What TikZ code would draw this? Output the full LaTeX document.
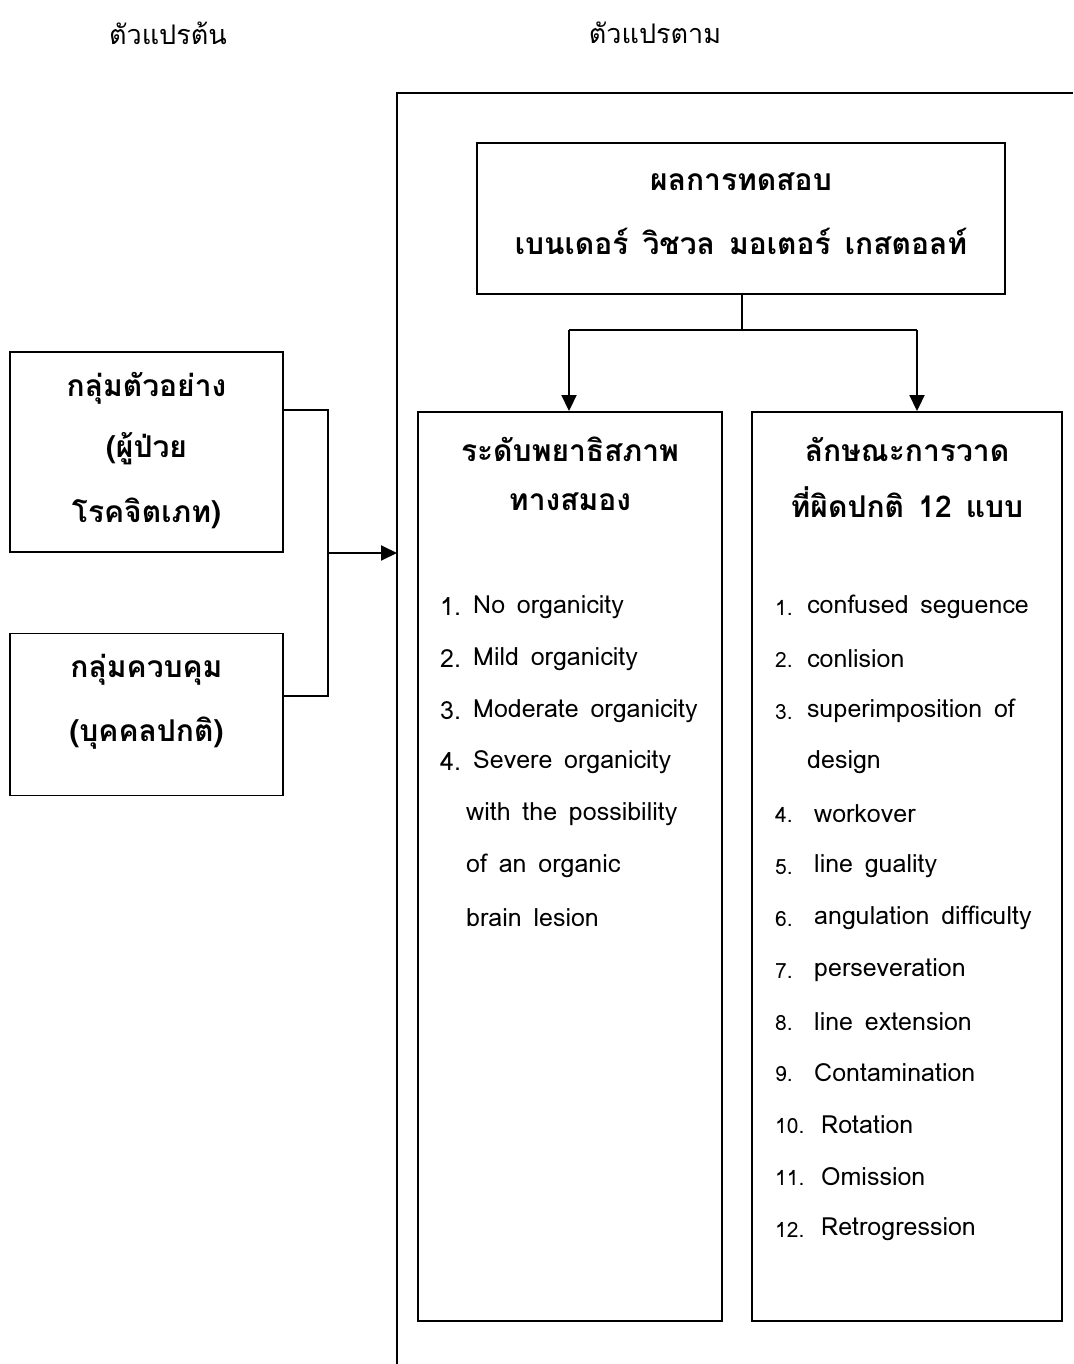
\documentclass[tikz,border=0pt]{standalone}
\usepackage{fontspec}
\setmainfont[Script=Thai,WordSpace=1.4]{Loma}
\usetikzlibrary{arrows.meta}
\begin{document}
\begin{tikzpicture}[x=1pt,y=-1pt,
  boxline/.style={draw,line width=1.9pt},
  bx/.style={boxline,rectangle,inner sep=0pt},
  conn/.style={line width=1.9pt},
  arr/.style={line width=1.9pt,-{Triangle[width=15pt,length=16pt]}},
  hd/.style={font=\fontsize{27}{30}\selectfont},
  ttl/.style={font=\fontsize{30}{34}\selectfont\bfseries},
  li/.style={font=\fontsize{25}{28}\selectfont,anchor=west,inner sep=0pt},
  ln/.style={font=\fontsize{21}{24}\selectfont,anchor=west,inner sep=0pt}]
\useasboundingbox (0,0) rectangle (1073,1364);
% headers
\node[hd] (h1) at (168,33) {ตัวแปรต้น};
\node[hd] (h2) at (655,33) {ตัวแปรตาม};
% frame
\coordinate (fb) at (397,1364);
\coordinate (ft) at (397,93);
\coordinate (fr) at (1073,93);
\draw[line width=2pt] (fb) -- (ft) -- (fr);
% boxes
\node[bx,minimum width=273pt,minimum height=200pt] (A) at (146.5,452) {};
\node[bx,minimum width=273pt,minimum height=162pt] (B) at (146.5,714.5) {};
\node[bx,minimum width=528pt,minimum height=151pt] (T) at (741,218.5) {};
\node[bx,minimum width=304pt,minimum height=909pt] (C) at (570,866.5) {};
\node[bx,minimum width=310pt,minimum height=909pt] (D) at (907,866.5) {};
% box texts
\node[ttl] (a1) at (146.5,388) {กลุ่มตัวอย่าง};
\node[ttl] (a2) at (146.5,449) {(ผู้ป่วย};
\node[ttl] (a3) at (146.5,513) {โรคจิตเภท)};
\node[ttl] (b1) at (146.5,670) {กลุ่มควบคุม};
\node[ttl] (b2) at (146.5,733) {(บุคคลปกติ)};
\node[ttl] (t1) at (741,182) {ผลการทดสอบ};
\node[ttl] (t2) at (741,241) {เบนเดอร์ วิชวล มอเตอร์ เกสตอลท์};
\node[ttl] (c1) at (570,449) {ระดับพยาธิสภาพ};
\node[ttl] (c2) at (570,502) {ทางสมอง};
\node[ttl] (d1) at (907,449) {ลักษณะการวาด};
\node[ttl] (d2) at (907,502) {ที่ผิดปกติ 12 แบบ};
% list C
\node[li] (cn1) at (440,607) {1.};
\node[li] (ct1) at (473,607) {No organicity};
\node[li] (cn2) at (440,659) {2.};
\node[li] (ct2) at (473,659) {Mild organicity};
\node[li] (cn3) at (440,711) {3.};
\node[li] (ct3) at (473,711) {Moderate organicity};
\node[li] (cn4) at (440,762) {4.};
\node[li] (ct4) at (473,762) {Severe organicity};
\node[li] (ct5) at (466,814) {with the possibility};
\node[li] (ct6) at (466,866) {of an organic};
\node[li] (ct7) at (466,918) {brain lesion};
% list D
\node[ln] (dn1) at (775,608) {1.};
\node[li] (dt1) at (807,607) {confused seguence};
\node[ln] (dn2) at (775,660) {2.};
\node[li] (dt2) at (807,659) {conlision};
\node[ln] (dn3) at (775,712) {3.};
\node[li] (dt3) at (807,711) {superimposition of};
\node[li] (dt3b) at (807,762) {design};
\node[ln] (dn4) at (775,815) {4.};
\node[li] (dt4) at (814,814) {workover};
\node[ln] (dn5) at (775,867) {5.};
\node[li] (dt5) at (814,866) {line guality};
\node[ln] (dn6) at (775,919) {6.};
\node[li] (dt6) at (814,918) {angulation difficulty};
\node[ln] (dn7) at (775,971) {7.};
\node[li] (dt7) at (814,970) {perseveration};
\node[ln] (dn8) at (775,1023) {8.};
\node[li] (dt8) at (814,1022) {line extension};
\node[ln] (dn9) at (775,1074) {9.};
\node[li] (dt9) at (814,1073) {Contamination};
\node[ln] (dn10) at (775,1126) {10.};
\node[li] (dt10) at (821,1125) {Rotation};
\node[ln] (dn11) at (775,1178) {11.};
\node[li] (dt11) at (821,1177) {Omission};
\node[ln] (dn12) at (775,1230) {12.};
\node[li] (dt12) at (821,1229) {Retrogression};
% left connectors
\coordinate (jA) at (328,410);
\coordinate (jB) at (328,696);
\coordinate (jM) at (328,553);
\draw[conn] (A.east |- jA) -- (jA) -- (jB) -- (B.east |- jB);
\draw[arr] (jM) -- (jM -| ft);
% top connectors
\coordinate (sp) at (742,330);
\coordinate (sL) at (569,330);
\coordinate (sR) at (917,330);
\draw[conn] (T.south -| sp) -- (sp);
\draw[conn] (sL) -- (sR);
\draw[arr] (sL) -- (sL |- C.north);
\draw[arr] (sR) -- (sR |- D.north);
\end{tikzpicture}
\end{document}
